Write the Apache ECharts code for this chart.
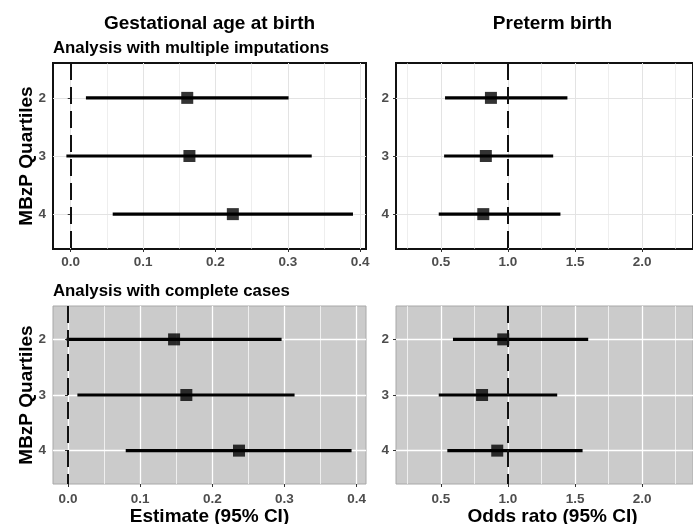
<!DOCTYPE html>
<html>
<head>
<meta charset="utf-8">
<script src="https://cdn.jsdelivr.net/npm/echarts@6/dist/echarts.min.js"></script>
<style>
html,body{margin:0;padding:0;background:#fff;}
#c{width:693px;height:524px;}
</style>
</head>
<body>
<div id="c"></div>
<script>
// ---- data ----
const rows = ['2', '3', '4'];
const rowPos = [2, 3, 4];

const gaMI_est = [0.161, 0.164, 0.224];
const gaMI_lo  = [0.021, -0.006, 0.058];
const gaMI_hi  = [0.301, 0.333, 0.390];

const ptMI_est = [0.873, 0.835, 0.816];
const ptMI_lo  = [0.531, 0.524, 0.484];
const ptMI_hi  = [1.443, 1.337, 1.391];

const gaCC_est = [0.147, 0.164, 0.237];
const gaCC_lo  = [-0.002, 0.013, 0.080];
const gaCC_hi  = [0.296, 0.314, 0.393];

const ptCC_est = [0.965, 0.807, 0.920];
const ptCC_lo  = [0.590, 0.484, 0.548];
const ptCC_hi  = [1.598, 1.367, 1.556];

const gaTicks = [0, 0.1, 0.2, 0.3, 0.4];
const gaMinor = [0.05, 0.15, 0.25, 0.35];
const orTicks = [0.5, 1.0, 1.5, 2.0];
const orMinor = [0.25, 0.75, 1.25, 1.75, 2.25];

const colTitles = ['Gestational age at birth', 'Preterm birth'];
const rowTitles = ['Analysis with multiple imputations', 'Analysis with complete cases'];
const yTitle = 'MBzP Quartiles';
const xTitles = ['Estimate (95% CI)', 'Odds rato (95% CI)'];

// ---- layout ----
const FONT = 'Liberation Sans, Arial, Helvetica, sans-serif';
const panels = [
  {left: 53,  top: 63,  width: 313, height: 186, xmin: -0.0245, xmax: 0.408, ticks: gaTicks, minor: gaMinor, ref: 0, est: gaMI_est, lo: gaMI_lo, hi: gaMI_hi, theme: 'bw'},
  {left: 396, top: 63,  width: 313, height: 186, xmin: 0.1655, xmax: 2.379, ticks: orTicks, minor: orMinor, ref: 1, est: ptMI_est, lo: ptMI_lo, hi: ptMI_hi, theme: 'bw'},
  {left: 53,  top: 306, width: 313, height: 178, xmin: -0.0208, xmax: 0.413, ticks: gaTicks, minor: gaMinor, ref: 0, est: gaCC_est, lo: gaCC_lo, hi: gaCC_hi, theme: 'gray'},
  {left: 396, top: 306, width: 313, height: 178, xmin: 0.1655, xmax: 2.379, ticks: orTicks, minor: orMinor, ref: 1, est: ptCC_est, lo: ptCC_lo, hi: ptCC_hi, theme: 'gray'}
];

const grid = [], xAxis = [], yAxis = [], series = [];
const labelStyle = {color: '#4d4d4d', fontSize: 13.5, fontWeight: 'bold', fontFamily: FONT};

panels.forEach((p, i) => {
  const bw = p.theme === 'bw';
  const majorColor = bw ? '#e3e3e3' : '#ffffff';
  grid.push({
    left: p.left, top: p.top, width: p.width, height: p.height,
    show: true,
    backgroundColor: bw ? '#ffffff' : '#cbcbcb',
    borderColor: bw ? '#111111' : '#a8a8a8',
    borderWidth: bw ? 2 : 1,
    containLabel: false
  });
  // major x axis
  xAxis.push({
    type: 'value', gridIndex: i, min: p.xmin, max: p.xmax, position: 'bottom',
    axisLine: {show: false},
    axisTick: {show: true, length: 3, lineStyle: {color: '#333'}, customValues: p.ticks},
    axisLabel: Object.assign({show: true, margin: bw ? 6 : 8, customValues: p.ticks,
      formatter: v => v.toFixed(1)}, labelStyle),
    splitLine: {show: true, lineStyle: {color: majorColor, width: bw ? 1 : 1.3}}
  });
  // minor x axis (grid lines only)
  xAxis.push({
    type: 'value', gridIndex: i, min: p.xmin, max: p.xmax, position: 'top',
    axisLine: {show: false},
    axisTick: {show: false, customValues: p.minor},
    axisLabel: {show: false, customValues: p.minor},
    splitLine: {show: true, lineStyle: {color: majorColor, width: bw ? 0.6 : 0.7}}
  });
  yAxis.push({
    type: 'value', gridIndex: i, min: 1.4, max: 4.6, inverse: true,
    axisLine: {show: false},
    axisTick: {show: true, length: 3, lineStyle: {color: '#333'}, customValues: rowPos},
    axisLabel: Object.assign({show: true, margin: 7, customValues: rowPos,
      formatter: v => rows[rowPos.indexOf(v)]}, labelStyle),
    splitLine: {show: true, lineStyle: {color: majorColor, width: bw ? 1 : 1.3}}
  });
  const xi = i * 2;
  // CI lines
  series.push({
    type: 'custom', xAxisIndex: xi, yAxisIndex: i, silent: true, z: 3,
    data: p.lo.map((l, k) => [l, p.hi[k], rowPos[k]]),
    encode: {x: [0, 1], y: 2},
    renderItem: (params, api) => {
      const a = api.coord([api.value(0), api.value(2)]);
      const b = api.coord([api.value(1), api.value(2)]);
      return {type: 'line', shape: {x1: a[0], y1: a[1], x2: b[0], y2: b[1]},
        style: {stroke: '#000', lineWidth: 3.2}};
    }
  });
  // point estimates + reference line
  series.push({
    type: 'scatter', xAxisIndex: xi, yAxisIndex: i, silent: true, z: 4,
    symbol: 'rect', symbolSize: 12,
    itemStyle: {color: '#000'},
    data: p.est.map((e, k) => [e, rowPos[k]]),
    markLine: {
      silent: true, symbol: ['none', 'none'], z: 5,
      label: {show: false},
      lineStyle: {color: '#111', width: 2, type: [17, 7]},
      data: [{xAxis: p.ref}]
    }
  });
});

const T = (text, x, y, size, align, extra) => Object.assign({
  type: 'text', x: x, y: y, silent: true,
  style: {text: text, font: 'bold ' + size + 'px ' + FONT, fill: '#000',
    align: align || 'center', verticalAlign: 'middle'}
}, extra || {});

const graphic = [
  T(colTitles[0], 209.5, 24, 19),
  T(colTitles[1], 552.5, 24, 19),
  T(rowTitles[0], 53, 48.5, 16.8, 'left'),
  T(rowTitles[1], 53, 291, 16.8, 'left'),
  T(yTitle, 27, 156, 19, 'center', {rotation: Math.PI / 2}),
  T(yTitle, 27, 395, 19, 'center', {rotation: Math.PI / 2}),
  T(xTitles[0], 209.5, 516.5, 19),
  T(xTitles[1], 552.5, 516.5, 19)
];

const chart = echarts.init(document.getElementById('c'), null, {renderer: 'canvas'});
chart.setOption({
  animation: false,
  backgroundColor: '#ffffff',
  grid: grid, xAxis: xAxis, yAxis: yAxis, series: series, graphic: graphic
});
</script>
</body>
</html>
